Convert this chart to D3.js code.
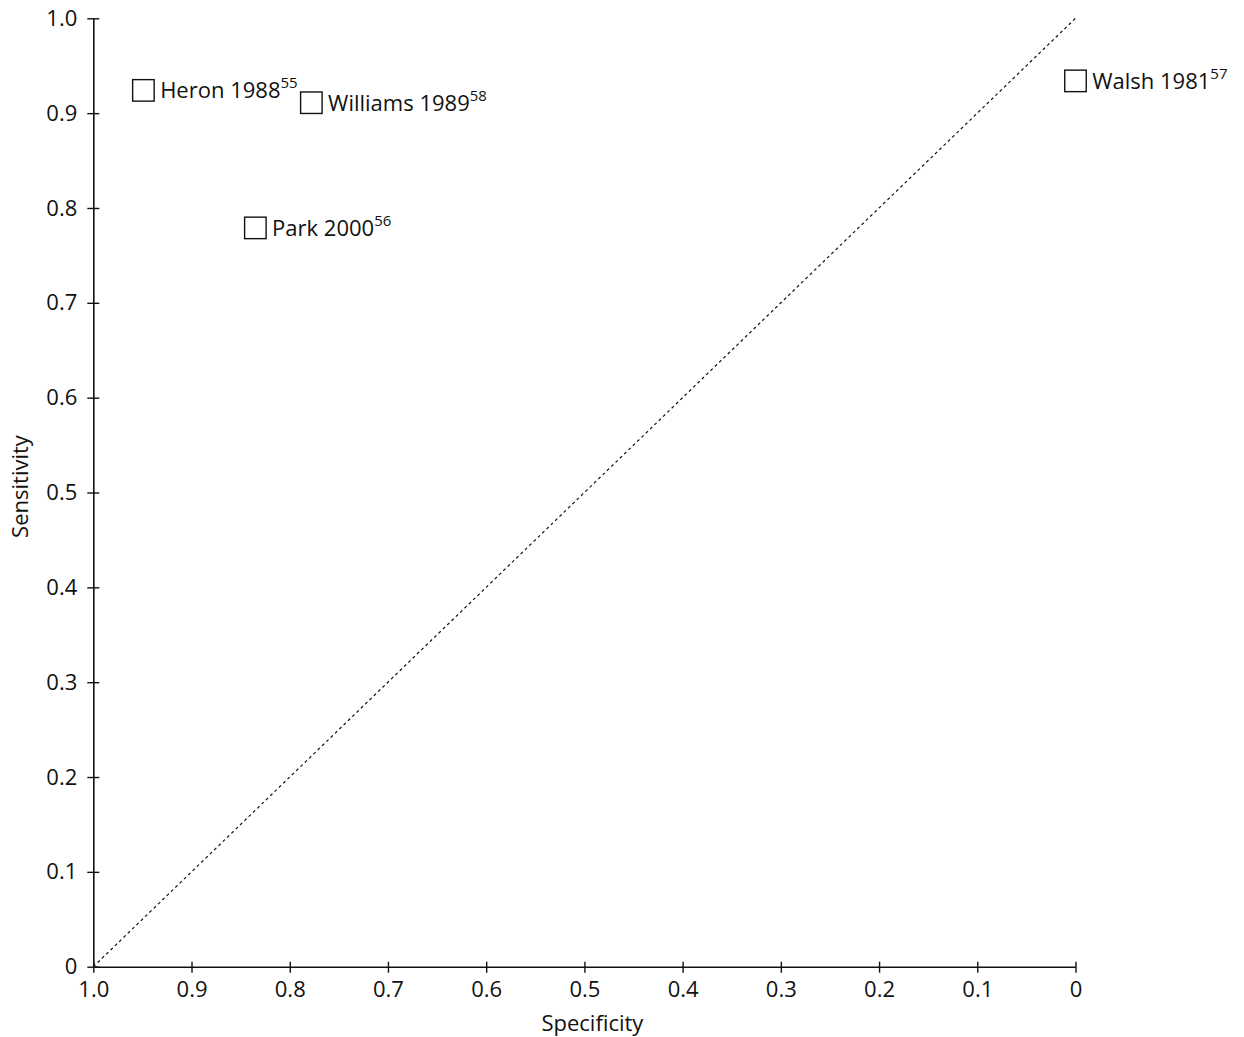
<!DOCTYPE html>
<html>
<head>
<meta charset="utf-8">
<script src="https://cdn.jsdelivr.net/npm/d3@7"></script>
<style>
  body { margin: 0; background: #fff; }
  svg { display: block; }
  text { font-family: "Open Sans", "Noto Sans", sans-serif; fill: #111; }
</style>
</head>
<body>
<svg id="chart" width="1244" height="1037"></svg>
<script>
const studies = ["Heron 1988", "Williams 1989", "Park 2000", "Walsh 1981"];
const refs = ["55", "58", "56", "57"];
const specificity = [0.949, 0.778, 0.835, 0.0];
const sensitivity = [0.924, 0.911, 0.779, 0.934];
const xTicks = [1.0, 0.9, 0.8, 0.7, 0.6, 0.5, 0.4, 0.3, 0.2, 0.1, 0];
const yTicks = [0, 0.1, 0.2, 0.3, 0.4, 0.5, 0.6, 0.7, 0.8, 0.9, 1.0];

const svg = d3.select("#chart");
const W = 1244, H = 1037;
const margin = { left: 93.3, right: W - 1075.5, top: 18.3, bottom: H - 966.7 };
const FS = 22, FW = 500;

const x = d3.scaleLinear().domain([1, 0]).range([margin.left, W - margin.right]);
const y = d3.scaleLinear().domain([0, 1]).range([H - margin.bottom, margin.top]);

const fmt = v => v === 0 ? "0" : d3.format(".1f")(v);

// X axis
const xAxis = svg.append("g")
  .attr("transform", `translate(0,${y(0)})`)
  .call(d3.axisBottom(x).tickValues(xTicks).tickFormat(fmt).tickSize(6).tickPadding(8).tickSizeOuter(0));
xAxis.select(".domain").attr("stroke", "#111").attr("stroke-width", 1.6);
xAxis.selectAll(".tick line").attr("stroke", "#111").attr("stroke-width", 1.4).attr("y1", -5).attr("y2", 6);
xAxis.selectAll(".tick text").attr("font-size", FS).attr("font-weight", FW)
  .attr("font-family", "Open Sans, sans-serif").attr("fill", "#111").attr("dy", "0.72em");

// Y axis
const yAxis = svg.append("g")
  .attr("transform", `translate(${x(1)},0)`)
  .call(d3.axisLeft(y).tickValues(yTicks).tickFormat(fmt).tickSize(6).tickPadding(10).tickSizeOuter(0));
yAxis.select(".domain").attr("stroke", "#111").attr("stroke-width", 1.6);
yAxis.selectAll(".tick line").attr("stroke", "#111").attr("stroke-width", 1.4).attr("x1", 6).attr("x2", -6);
yAxis.selectAll(".tick text").attr("font-size", FS).attr("font-weight", FW)
  .attr("font-family", "Open Sans, sans-serif").attr("fill", "#111");

// Diagonal reference line
svg.append("line")
  .attr("x1", x(1)).attr("y1", y(0))
  .attr("x2", x(0)).attr("y2", y(1))
  .attr("stroke", "#111").attr("stroke-width", 1.2)
  .attr("stroke-dasharray", "3,3");

// Points
const data = studies.map((s, i) => ({ name: s, ref: refs[i], spec: specificity[i], sens: sensitivity[i] }));
const sq = 21.5;
const g = svg.append("g");
g.selectAll("rect").data(data).join("rect")
  .attr("x", d => x(d.spec) - sq / 2)
  .attr("y", d => y(d.sens) - sq / 2)
  .attr("width", sq).attr("height", sq)
  .attr("fill", "#fff").attr("stroke", "#111").attr("stroke-width", 1.4);

const lbl = g.selectAll("text.lbl").data(data).join("text")
  .attr("class", "lbl")
  .attr("x", d => x(d.spec) + sq / 2 + 6)
  .attr("y", d => y(d.sens) + 8)
  .attr("font-size", FS).attr("font-weight", FW);
lbl.append("tspan").text(d => d.name);
lbl.append("tspan").attr("font-size", 15).attr("dy", -10).text(d => d.ref);

// Axis titles
svg.append("text")
  .attr("x", (x(1) + x(0)) / 2 + 8).attr("y", 1031)
  .attr("text-anchor", "middle").attr("font-size", FS).attr("font-weight", FW)
  .text("Specificity");
svg.append("text")
  .attr("transform", `translate(28,${(y(0) + y(1)) / 2 - 6}) rotate(-90)`)
  .attr("text-anchor", "middle").attr("font-size", FS).attr("font-weight", FW)
  .text("Sensitivity");
</script>
</body>
</html>
